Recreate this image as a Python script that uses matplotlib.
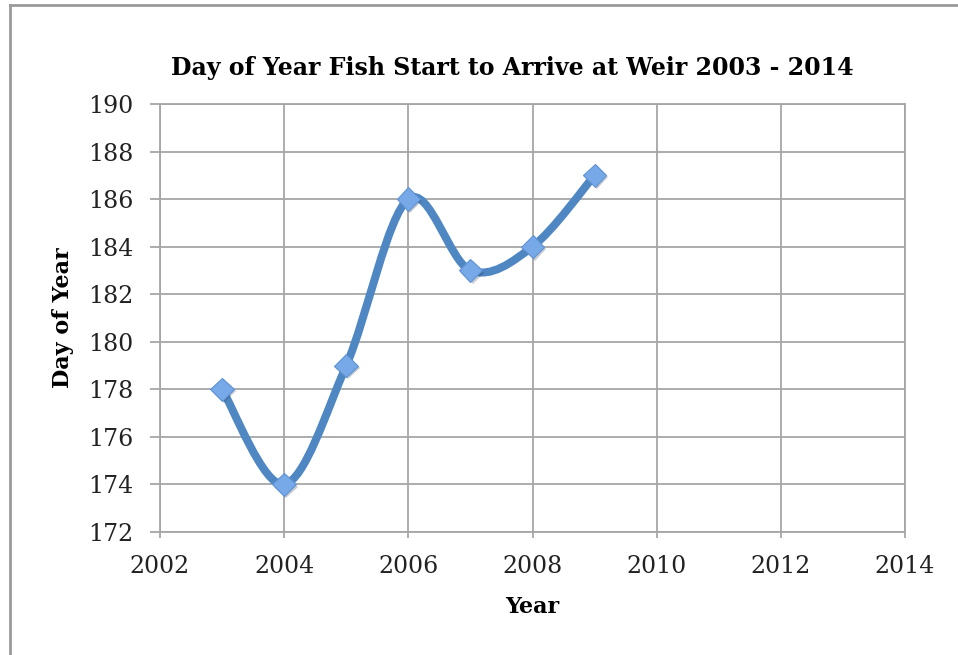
import numpy as np
import matplotlib
matplotlib.use('Agg')
import matplotlib.pyplot as plt
from matplotlib.path import Path
from matplotlib.patches import PathPatch
import matplotlib.patheffects as pe

years = [2003, 2004, 2005, 2006, 2007, 2008, 2009]
start_day = [178, 174, 179, 186, 183, 184, 187]

x_ticks = [2002, 2004, 2006, 2008, 2010, 2012, 2014]
y_ticks = [172, 174, 176, 178, 180, 182, 184, 186, 188, 190]

LINE_BLUE = '#4f87c3'
GRID = '#a6a6a6'

plt.rcParams['font.family'] = ['DejaVu Serif']


def smooth_path(xs, ys):
    # cubic Bezier through every point, tangents from the neighbours
    pts = np.column_stack([xs, ys]).astype(float)
    n = len(pts)
    verts = [pts[0]]
    codes = [Path.MOVETO]
    for i in range(n - 1):
        p_prev = pts[max(i - 1, 0)]
        p0 = pts[i]
        p1 = pts[i + 1]
        p_next = pts[min(i + 2, n - 1)]
        c1 = p0 + (p1 - p_prev) / 6.0
        c2 = p1 - (p_next - p0) / 6.0
        verts += [c1, c2, p1]
        codes += [Path.CURVE4] * 3
    return Path(verts, codes)


fig = plt.figure(figsize=(9.58, 6.55), dpi=100)
ax = fig.add_axes([160 / 958, 1 - 532 / 655, 745 / 958, 428 / 655])

# thin frame round the chart area
fig.add_artist(plt.Line2D([10 / 958, 10 / 958], [0, 1 - 5 / 655],
                          transform=fig.transFigure, color='#9a9a9a', lw=2))
fig.add_artist(plt.Line2D([10 / 958, 1], [1 - 5 / 655, 1 - 5 / 655],
                          transform=fig.transFigure, color='#9a9a9a', lw=2))

curve = PathPatch(smooth_path(years, start_day), facecolor='none',
                  edgecolor=LINE_BLUE, lw=5.8, capstyle='round', zorder=3)
ax.add_patch(curve)
ax.plot(years, start_day, linestyle='none', marker='D', markersize=12,
        markerfacecolor='#77a9e8', markeredgecolor='#5e92d3', markeredgewidth=0.8,
        zorder=4,
        path_effects=[pe.SimplePatchShadow(offset=(1.5, -1.5), alpha=0.25), pe.Normal()])

ax.set_xlim(2002, 2014)
ax.set_ylim(172, 190)
ax.set_xticks(x_ticks)
ax.set_yticks(y_ticks)
ax.grid(True, color=GRID, lw=1.3)
ax.set_axisbelow(True)
for s in ax.spines.values():
    s.set_color(GRID)
    s.set_linewidth(1.3)
ax.tick_params(axis='both', direction='out', width=1.3, color=GRID,
               labelsize=17, labelcolor='#222222')
ax.tick_params(axis='y', length=7.2, pad=12)
ax.tick_params(axis='x', length=4.3, pad=12)

# title sits centred on the whole chart, not on the plot area
fig.text(512 / 958, 1 - 68 / 655, 'Day of Year Fish Start to Arrive at Weir 2003 - 2014',
         fontsize=17, fontweight='bold', ha='center', va='center')
ax.set_xlabel('Year', fontsize=16, fontweight='bold', labelpad=13)
ax.set_ylabel('Day of Year', fontsize=16, fontweight='bold', labelpad=10)

fig.savefig('out.png', dpi=100)
